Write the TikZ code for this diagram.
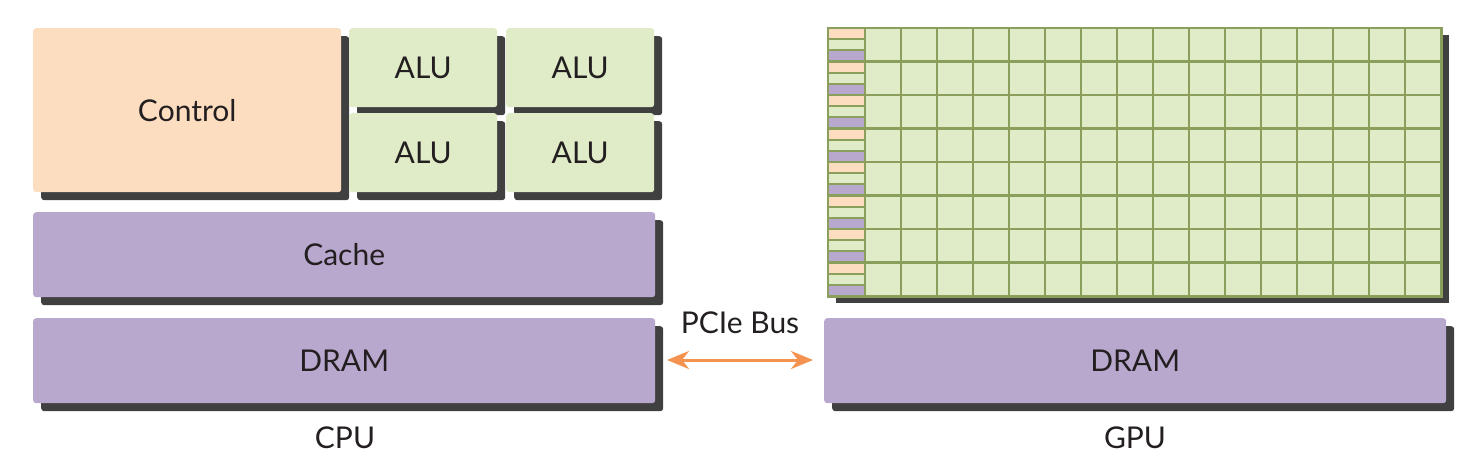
\documentclass[tikz,border=0pt]{standalone}
\usepackage{fontspec}
\setmainfont{Lato}
\usetikzlibrary{shadows,arrows.meta}
\definecolor{ctrl}{HTML}{FDDDBF}
\definecolor{alu}{HTML}{DFECC7}
\definecolor{mem}{HTML}{B9A8CE}
\definecolor{shd}{HTML}{404040}
\definecolor{gridc}{HTML}{8A9F5B}
\definecolor{txt}{HTML}{231F20}
\definecolor{arr}{HTML}{F4934F}
\begin{document}
\begin{tikzpicture}[x=1pt,y=-1pt,
  box/.style={rounded corners=3pt, inner sep=0pt, anchor=north west, text=txt,
    font=\fontsize{30}{30}\selectfont,
    drop shadow={shadow xshift=8pt,shadow yshift=-8pt,fill=shd,opacity=1}},
  ctrlbox/.style={box, fill=ctrl},
  alubox/.style={box, fill=alu, minimum width=148pt, minimum height=79pt},
  membox/.style={box, fill=mem, minimum width=622pt, minimum height=85pt},
  gpubox/.style={inner sep=0pt, anchor=north west, fill=alu, minimum width=613pt, minimum height=268pt,
    drop shadow={shadow xshift=8pt,shadow yshift=-7pt,fill=shd,opacity=1}},
  lbl/.style={text=txt, font=\fontsize{30}{30}\selectfont},
  gline/.style={draw=gridc, line width=2.3pt},
  bus/.style={draw=arr, line width=3pt, {Stealth[length=22pt,width=18pt,inset=7pt]}-{Stealth[length=22pt,width=18pt,inset=7pt]}}
]
\useasboundingbox (0,0) rectangle (1480,466);
% CPU
\node[ctrlbox, minimum width=308pt, minimum height=164pt] (control) at (33,28) {Control};
\node[alubox] (alu1) at (349,28) {ALU};
\node[alubox] (alu2) at (506,28) {ALU};
\node[alubox] (alu3) at (349,113) {ALU};
\node[alubox] (alu4) at (506,113) {ALU};
\node[membox] (cache) at (33,212) {Cache};
\node[membox] (cdram) at (33,318) {DRAM};
\node[lbl] (cpu) at (345,438) {CPU};
% GPU
\node[gpubox] (gpu) at (828,28) {};
\foreach \i in {0,...,23}{
  \pgfmathtruncatemacro{\m}{mod(\i,3)}
  \ifcase\m \def\cc{ctrl}\or \def\cc{alu}\or \def\cc{mem}\fi
  \fill[\cc] (828,{28+\i*268/24}) rectangle (865,{28+(\i+1)*268/24});
}
\foreach \i in {1,...,23}{
  \draw[gline] (828,{28+\i*268/24}) -- (865,{28+\i*268/24});
}
\foreach \k in {0,...,15}{
  \draw[gline] ({865+\k*36},28) -- ({865+\k*36},296);
}
\foreach \j in {1,...,7}{
  \draw[gline] (828,{28+\j*33.5}) -- (1441,{28+\j*33.5});
}
\draw[draw=gridc, line width=2.6pt] (gpu.north west) rectangle (gpu.south east);
\node[membox] (gdram) at (824,318) {DRAM};
\node[lbl] (gpulbl) at (1135,438) {GPU};
% bus
\node[lbl] (pcie) at (740,323) {PCIe Bus};
\coordinate (pl) at (667,360);
\coordinate (pr) at (813,360);
\draw[bus] (pl) -- (pr);
\end{tikzpicture}
\end{document}
